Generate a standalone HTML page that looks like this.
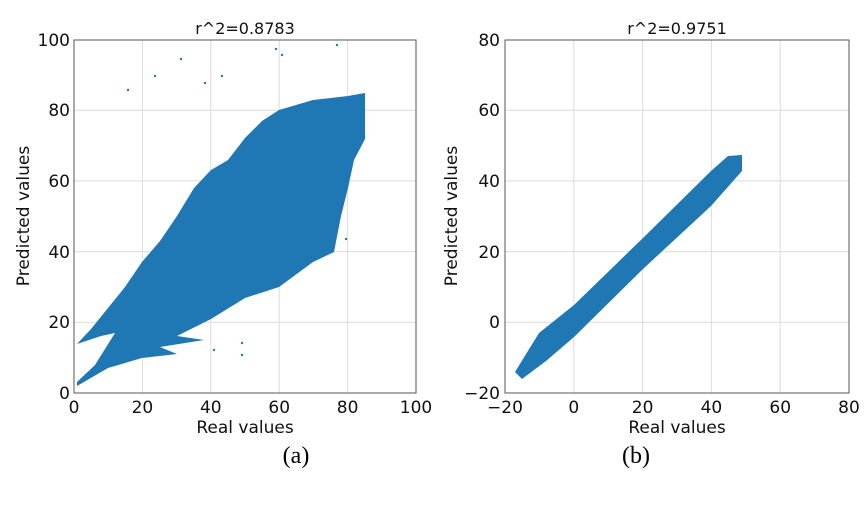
<!DOCTYPE html>
<html><head><style>body{margin:0;background:#fff}</style></head><body>
<svg width="868" height="516" xmlns="http://www.w3.org/2000/svg" font-family="'DejaVu Sans','Liberation Sans',sans-serif">
<g stroke="#dcdcdc" stroke-width="1">
<line x1="142.4" y1="40" x2="142.4" y2="393"/><line x1="210.8" y1="40" x2="210.8" y2="393"/><line x1="279.2" y1="40" x2="279.2" y2="393"/><line x1="347.6" y1="40" x2="347.6" y2="393"/>
<line x1="74" y1="322.3" x2="416" y2="322.3"/><line x1="74" y1="251.6" x2="416" y2="251.6"/><line x1="74" y1="180.9" x2="416" y2="180.9"/><line x1="74" y1="110.2" x2="416" y2="110.2"/>
<line x1="573.8" y1="40" x2="573.8" y2="393"/><line x1="642.6" y1="40" x2="642.6" y2="393"/><line x1="711.4" y1="40" x2="711.4" y2="393"/><line x1="780.2" y1="40" x2="780.2" y2="393"/>
<line x1="505" y1="322.3" x2="849" y2="322.3"/><line x1="505" y1="251.6" x2="849" y2="251.6"/><line x1="505" y1="180.9" x2="849" y2="180.9"/><line x1="505" y1="110.2" x2="849" y2="110.2"/>
</g>
<polygon fill="#1f77b4" points="77,386 108,368 142,358 177,354 160,347 204,340 177,336 211,319 245,298 279,287 313,262 334,252 341,216 348,188 354,160 365,139 365,93 348,96 313,100 279,110 262,121 245,138 228,160 211,170 194,188 177,216 160,241 142,262 125,287 108,308 91,329 77,344 101,336 115,333 95,365 77,382"/>
<g fill="#1f77b4">
<circle cx="128" cy="90" r="1.2"/><circle cx="155" cy="76" r="1.2"/><circle cx="181" cy="59" r="1.2"/><circle cx="205" cy="83" r="1.2"/><circle cx="276" cy="49" r="1.2"/><circle cx="337" cy="45" r="1.2"/><circle cx="346" cy="239" r="1.2"/><circle cx="242" cy="355" r="1.2"/><circle cx="242" cy="343" r="1.2"/><circle cx="214" cy="350" r="1.2"/><circle cx="222" cy="76" r="1.2"/><circle cx="282" cy="55" r="1.2"/>
</g>
<polygon fill="#1f77b4" points="515,372 539,333 574,305 643,238 711,171 728,156 742,155 742,171 711,206 643,269 574,337 546,361 522,379"/>
<g fill="none" stroke="#555" stroke-width="1"><rect x="74" y="40" width="342" height="353"/><rect x="505" y="40" width="344" height="353"/></g>
<g font-size="17" fill="#111" text-anchor="middle">
<text x="74" y="413">0</text><text x="142.4" y="413">20</text><text x="210.8" y="413">40</text><text x="279.2" y="413">60</text><text x="347.6" y="413">80</text><text x="416" y="413">100</text>
<text x="505" y="413">−20</text><text x="573.8" y="413">0</text><text x="642.6" y="413">20</text><text x="711.4" y="413">40</text><text x="780.2" y="413">60</text><text x="849" y="413">80</text>
</g>
<g font-size="17" fill="#111" text-anchor="end">
<text x="70" y="399">0</text><text x="70" y="328">20</text><text x="70" y="258">40</text><text x="70" y="187">60</text><text x="70" y="116">80</text><text x="70" y="46">100</text>
<text x="500" y="399">−20</text><text x="500" y="328">0</text><text x="500" y="258">20</text><text x="500" y="187">40</text><text x="500" y="116">60</text><text x="500" y="46">80</text>
</g>
<g font-size="17" fill="#111" text-anchor="middle">
<text x="245" y="433">Real values</text><text x="677" y="433">Real values</text>
<text transform="translate(29,216) rotate(-90)">Predicted values</text>
<text transform="translate(457,216) rotate(-90)">Predicted values</text>
<text x="245" y="34" font-size="16">r^2=0.8783</text><text x="677" y="34" font-size="16">r^2=0.9751</text>
</g>
<g font-family="'Liberation Serif',serif" font-size="24" fill="#000" text-anchor="middle">
<text x="296" y="463">(a)</text><text x="636" y="463">(b)</text>
</g>
</svg>
</body></html>
